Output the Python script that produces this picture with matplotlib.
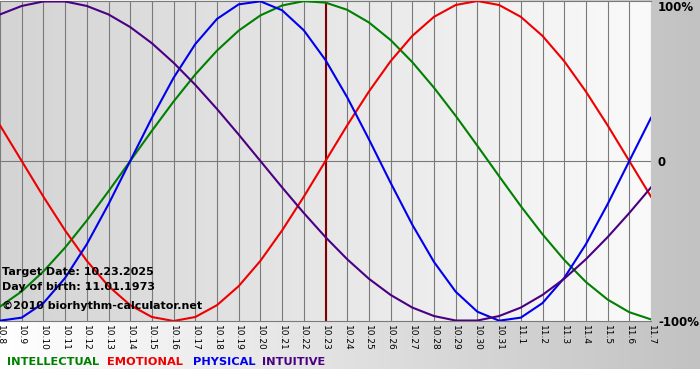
import matplotlib
matplotlib.use('Agg')
import matplotlib.pyplot as plt
import numpy as np
from matplotlib.colors import LinearSegmentedColormap

dates = ['10.8', '10.9', '10.10', '10.11', '10.12', '10.13', '10.14', '10.15',
         '10.16', '10.17', '10.18', '10.19', '10.20', '10.21', '10.22', '10.23',
         '10.24', '10.25', '10.26', '10.27', '10.28', '10.29', '10.30', '10.31',
         '11.1', '11.2', '11.3', '11.4', '11.5', '11.6', '11.7']
target = '10.23'

physical = [-0.998, -0.979, -0.888, -0.731, -0.520, -0.270, 0.0, 0.270,
            0.520, 0.731, 0.888, 0.979, 0.998, 0.942, 0.817, 0.631,
            0.398, 0.136, -0.136, -0.398, -0.631, -0.817, -0.942, -0.998,
            -0.979, -0.888, -0.731, -0.520, -0.270, 0.0, 0.270]
emotional = [0.223, 0.0, -0.223, -0.434, -0.624, -0.782, -0.901, -0.975,
             -1.0, -0.975, -0.901, -0.782, -0.624, -0.434, -0.223, 0.0,
             0.223, 0.434, 0.624, 0.782, 0.901, 0.975, 1.0, 0.975,
             0.901, 0.782, 0.624, 0.434, 0.223, 0.0, -0.223]
intellectual = [-0.910, -0.815, -0.690, -0.541, -0.372, -0.189, 0.0, 0.189,
                0.372, 0.541, 0.690, 0.815, 0.910, 0.972, 0.999, 0.990,
                0.945, 0.866, 0.756, 0.618, 0.458, 0.282, 0.095, -0.095,
                -0.282, -0.458, -0.618, -0.756, -0.866, -0.945, -0.990]
intuitive = [0.916, 0.969, 0.997, 0.997, 0.969, 0.916, 0.837, 0.736,
             0.614, 0.476, 0.325, 0.165, 0.0, -0.165, -0.325, -0.476,
             -0.614, -0.736, -0.837, -0.916, -0.969, -0.997, -0.997, -0.969,
             -0.916, -0.837, -0.736, -0.614, -0.476, -0.325, -0.165]

series = [('INTELLECTUAL', intellectual, '#008000'),
          ('EMOTIONAL', emotional, '#ee0000'),
          ('PHYSICAL', physical, '#0000ee'),
          ('INTUITIVE', intuitive, '#4b0082')]

W, H = 700, 380
fig = plt.figure(figsize=(7, 3.8), dpi=100)
fig.patch.set_facecolor('white')

# outer gradient (white -> gray)
bg = fig.add_axes([0, 11 / H, 1, 369 / H], zorder=-10)
bg.imshow(np.linspace(0, 1, 256).reshape(1, -1), aspect='auto',
          cmap=LinearSegmentedColormap.from_list('outer', ['#ffffff', '#c2c2c2']),
          extent=[0, 1, 0, 1])
bg.axis('off')

ax = fig.add_axes([0, 59 / H, 651 / W, 320 / H])
x = np.arange(len(dates))
ax.imshow(np.linspace(0, 1, 256).reshape(1, -1), aspect='auto', zorder=0,
          cmap=LinearSegmentedColormap.from_list('inner', ['#d4d4d4', '#fafafa']),
          extent=[x[0], x[-1], -1, 1])

for xi in x:
    ax.axvline(xi, color='#7a7a7a', lw=0.8, zorder=1)
ax.axhline(0, color='#7a7a7a', lw=0.8, zorder=1)
ax.axvline(dates.index(target), color='#800000', lw=1.5, zorder=2)

for name, vals, col in series:
    ax.plot(x, vals, color=col, lw=1.5, zorder=3)

ax.set_xlim(x[0], x[-1])
ax.set_ylim(-1, 1)
ax.set_xticks(x)
ax.set_xticklabels(dates, rotation=270, fontsize=6.5)
ax.tick_params(axis='x', length=0, pad=3)
ax.yaxis.tick_right()
ax.set_yticks([-1, 0, 1])
ax.set_yticklabels(['-100%', '0', '100%'], fontsize=8.5, fontweight='bold')
ax.tick_params(axis='y', length=0, pad=5)
ax.get_yticklabels()[2].set_va('top')
for s in ['left', 'right']:
    ax.spines[s].set_visible(False)
for s in ['top', 'bottom']:
    ax.spines[s].set_color('#7a7a7a')
    ax.spines[s].set_linewidth(0.8)

info = ['Target Date: 10.23.2025', 'Day of birth: 11.01.1973',
        '\u00a92010 biorhythm-calculator.net']
for txt, yy in zip(info, [0.153, 0.106, 0.047]):
    ax.text(2 / 651, yy, txt, transform=ax.transAxes, fontsize=8,
            fontweight='bold', va='center', ha='left', zorder=5)

legend_x = [7, 107, 193, 262]
for (name, vals, col), lx in zip(series, legend_x):
    fig.text(lx / W, (H - 362) / H, name, color=col, fontsize=8.2,
             fontweight='bold', va='center', ha='left')

plt.savefig('out.png', dpi=100)
